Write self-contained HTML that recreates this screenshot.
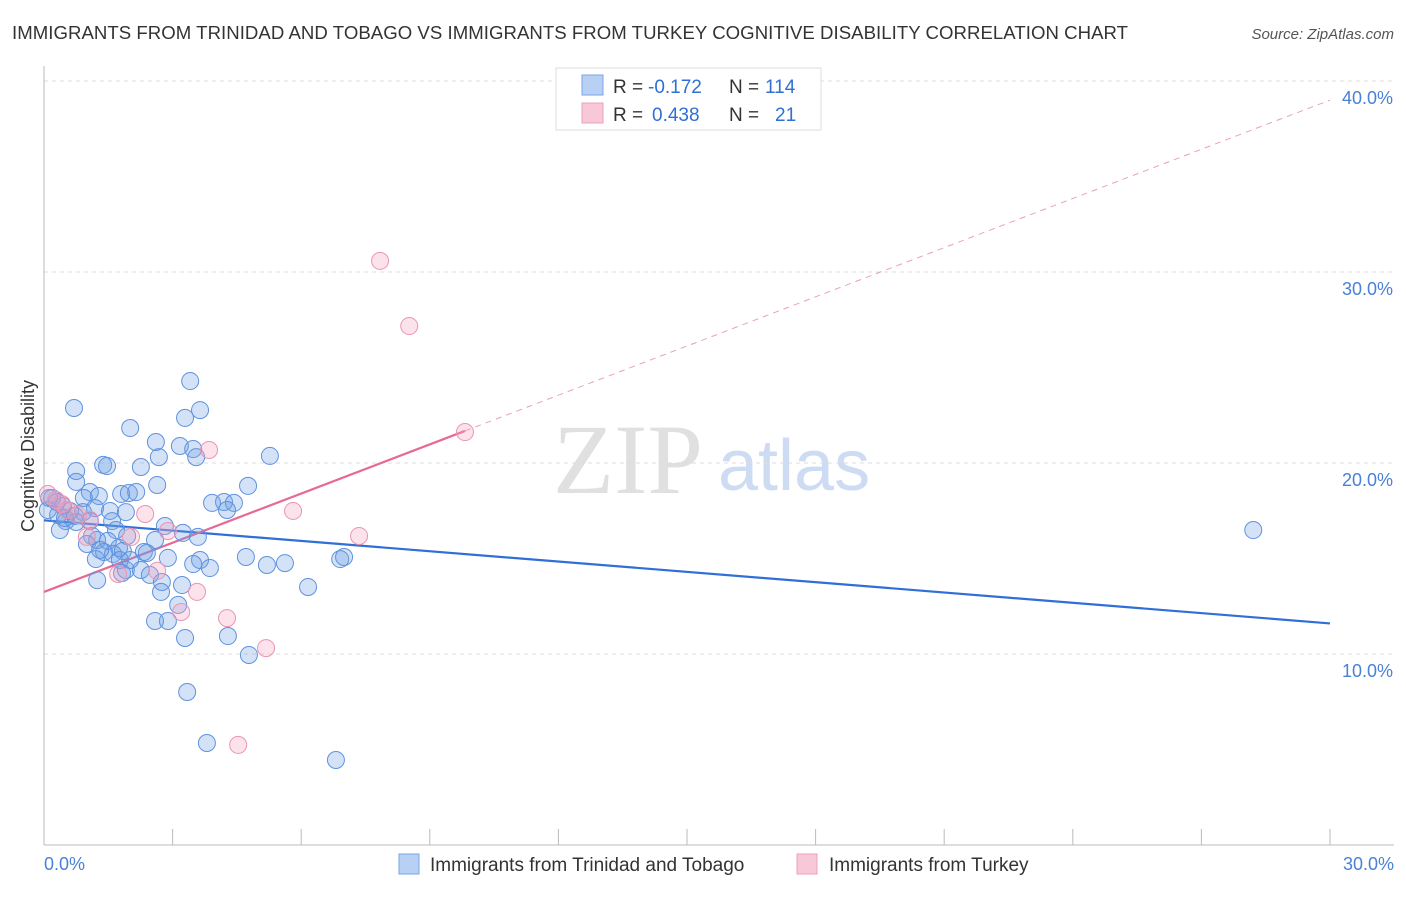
<!DOCTYPE html>
<html><head><meta charset="utf-8"><style>
body{margin:0;background:#fff;font-family:"Liberation Sans",sans-serif;}
svg text{font-family:"Liberation Sans",sans-serif;}
</style></head><body>
<svg id="chart" width="1406" height="892">
<text x="12" y="39" font-size="18.6" fill="#333" textLength="1116">IMMIGRANTS FROM TRINIDAD AND TOBAGO VS IMMIGRANTS FROM TURKEY COGNITIVE DISABILITY CORRELATION CHART</text>
<text x="1394" y="39" font-size="15" fill="#555" font-style="italic" text-anchor="end">Source: ZipAtlas.com</text>
<text x="34" y="456" font-size="18" fill="#333" text-anchor="middle" transform="rotate(-90 34 456)">Cognitive Disability</text>
<g><text x="553" y="493" font-size="100" style="font-family:'Liberation Serif',serif" fill="#e0e0e0">ZIP</text><text x="718" y="490" font-size="72" fill="#cddcf2">atlas</text></g>
<g id="grid"></g><g id="ticks"></g><g id="lines"></g><g id="pts"></g>
<g>
<rect x="556" y="68" width="265" height="62" fill="#fff" stroke="#ddd"/>
<rect x="582" y="75" width="21" height="20" fill="#b8d0f4" stroke="#7aa4e4"/>
<rect x="582" y="103" width="21" height="20" fill="#f8c8d8" stroke="#eca0bc"/>
<text x="613" y="93" font-size="19" fill="#333">R =</text>
<text x="648" y="93" font-size="19" fill="#2f6fd6">-0.172</text>
<text x="729" y="93" font-size="19" fill="#333">N =</text>
<text x="765" y="93" font-size="19" fill="#2f6fd6">114</text>
<text x="613" y="121" font-size="19" fill="#333">R =</text>
<text x="652" y="121" font-size="19" fill="#2f6fd6">0.438</text>
<text x="729" y="121" font-size="19" fill="#333">N =</text>
<text x="775" y="121" font-size="19" fill="#2f6fd6">21</text>
</g>
<g>
<rect x="399" y="854" width="20" height="20" fill="#b8d0f4" stroke="#7aa4e4"/>
<text x="430" y="871" font-size="19" fill="#333">Immigrants from Trinidad and Tobago</text>
<rect x="797" y="854" width="20" height="20" fill="#f8c8d8" stroke="#eca0bc"/>
<text x="829" y="871" font-size="19" fill="#333">Immigrants from Turkey</text>
</g>
</svg>
<script>
const yTicks=[10,20,30,40];
const yTickLabels=["10.0%","20.0%","30.0%","40.0%"];
const xTicks=[0,3,6,9,12,15,18,21,24,27,30];
const blueX=[0.70,3.41,3.64,3.29,2.01,2.61,3.17,3.48,3.55,2.68,5.27,1.38,1.47,2.26,0.75,0.75,2.64,4.76,1.07,1.80,1.98,2.15,1.28,0.93,0.12,0.30,0.44,3.92,4.20,4.43,1.19,1.91,4.27,0.61,0.91,1.54,0.51,0.75,1.07,1.59,2.82,0.37,1.68,1.94,1.12,1.24,3.24,3.59,2.59,1.49,1.00,1.75,2.33,1.40,1.61,1.84,1.77,2.40,2.89,1.21,3.64,4.71,5.20,5.62,6.91,7.00,3.48,3.87,1.91,2.26,1.82,1.24,2.75,3.22,6.16,2.73,3.13,2.59,2.89,3.29,4.29,4.78,3.34,3.80,6.81,28.21,0.09,0.19,0.33,0.49,1.31,2.01,2.47,0.72];
const blueY=[22.88,24.29,22.77,22.36,21.83,21.10,20.89,20.73,20.31,20.31,20.37,19.90,19.84,19.79,19.58,19.01,18.85,18.80,18.48,18.38,18.43,18.48,18.27,18.17,18.17,17.96,17.75,17.91,17.96,17.91,17.64,17.43,17.54,17.49,17.43,17.49,16.96,16.91,16.96,16.96,16.70,16.49,16.49,16.18,16.18,15.97,16.34,16.13,15.97,15.92,15.76,15.55,15.34,15.34,15.24,15.39,14.92,15.29,15.03,14.97,14.92,15.08,14.66,14.76,14.97,15.08,14.71,14.50,14.40,14.40,14.24,13.87,13.77,13.61,13.51,13.25,12.57,11.73,11.73,10.84,10.94,9.95,8.01,5.34,4.45,16.49,17.54,18.17,17.28,17.12,15.45,14.92,14.14,17.23];
const pinkX=[0.09,0.28,0.42,0.54,0.79,1.07,2.36,3.85,5.81,7.35,7.84,8.52,9.82,1.00,2.03,2.64,3.20,3.57,4.27,5.18,4.53,1.73,2.89];
const pinkY=[18.38,18.06,17.85,17.54,17.28,17.02,17.33,20.68,17.49,16.18,30.58,27.17,21.62,16.13,16.13,14.35,12.20,13.25,11.88,10.31,5.24,14.19,16.44];
const blueTrend=[17.0,11.6];
const pinkTrend=[13.25,39.0];
const pinkSolidEnd=9.82;

const NS="http://www.w3.org/2000/svg";
const sx=v=>44+v*1286/30, sy=v=>845-v*19.1;
function mk(p,t,a){const e=document.createElementNS(NS,t);for(const k in a)e.setAttribute(k,a[k]);document.getElementById(p).appendChild(e);return e;}
yTicks.forEach((t,i)=>{
 const g=mk('grid','line',{x1:44,x2:1394,y1:sy(t),y2:sy(t),stroke:'#ddd','stroke-dasharray':'4,4'});
 
 
 const l=mk('grid','text',{x:1393,y:sy(t)+23,'font-size':18,fill:'#4a80d8','text-anchor':'end'});l.textContent=yTickLabels[i];
 
 
});
const ax=mk('ticks','line',{x1:44,x2:44,y1:66,y2:845,stroke:'#bbb'});


const bx=mk('ticks','line',{x1:44,x2:1394,y1:845,y2:845,stroke:'#bbb'});


xTicks.forEach(t=>{const e=mk('ticks','line',{x1:sx(t),x2:sx(t),y1:829,y2:845,stroke:'#bbb'});
 
 });
const x0=mk('ticks','text',{x:44,y:870,'font-size':18,fill:'#4a80d8'});x0.textContent='0.0%';


const x1=mk('ticks','text',{x:1394,y:870,'font-size':18,fill:'#4a80d8','text-anchor':'end'});x1.textContent='30.0%';


function dot(x,y,c,s,n){const e=mk('pts','circle',{cx:sx(x),cy:sy(y),r:8.5,fill:c,stroke:s,'stroke-width':1});
 
 }
blueX.forEach((x,i)=>dot(x,blueY[i],'rgba(110,160,230,0.3)','#5f92de','point-trinidad'));
pinkX.forEach((x,i)=>dot(x,pinkY[i],'rgba(245,160,190,0.3)','#ea95b3','point-turkey'));
const pv=x=>pinkTrend[0]+(pinkTrend[1]-pinkTrend[0])*x/30;
const bl=mk('lines','line',{x1:sx(0),y1:sy(blueTrend[0]),x2:sx(30),y2:sy(blueTrend[1]),stroke:'#2f6fd6','stroke-width':2.2});


const pl=mk('lines','line',{x1:sx(0),y1:sy(pv(0)),x2:sx(pinkSolidEnd),y2:sy(pv(pinkSolidEnd)),stroke:'#e66a93','stroke-width':2.2});


const pd=mk('lines','line',{x1:sx(pinkSolidEnd),y1:sy(pv(pinkSolidEnd)),x2:sx(30),y2:sy(pv(30)),stroke:'#eaa0b8','stroke-width':1,'stroke-dasharray':'6,5'});


</script>
</body></html>
